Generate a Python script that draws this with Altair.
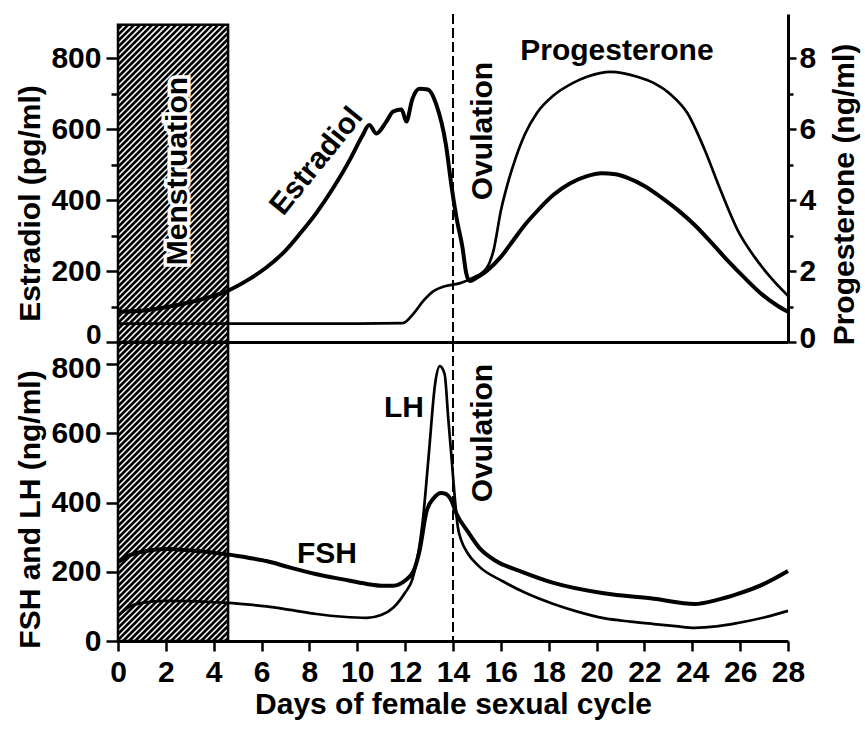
import altair as alt
import pandas as pd

# ---------------- data ----------------
estradiol_day = [0, 1, 2, 3, 4, 4.6, 5.5, 6.2, 7.0, 7.6, 8.3, 9.0, 9.7, 10.2, 10.5, 10.8,
                 11.2, 11.5, 11.85, 12.05, 12.3, 12.6, 12.95, 13.3, 13.7, 13.95, 14.15, 14.4,
                 14.55, 14.7, 15.0, 15.4, 16.0, 16.5, 17.0, 17.5, 18.2, 18.9, 19.6, 20.2,
                 20.8, 21.3, 22.0, 22.7, 23.4, 24.1, 24.8, 25.5, 26.2, 26.9, 27.5, 28.0]
estradiol_val = [85, 88, 98, 112, 130, 145, 178, 210, 258, 305, 365, 435, 515, 580, 612, 588,
                 620, 650, 656, 622, 685, 714, 712, 670, 558, 434, 349, 265,
                 195, 172, 182, 200, 240, 285, 330, 368, 415, 448, 468, 476,
                 473, 463, 440, 408, 372, 330, 280, 228, 180, 135, 105, 85]

progesterone_day = [0, 2, 4, 6, 8, 10, 11.9, 12.35, 12.75, 13.2, 13.7, 14.3, 14.8, 15.4,
                    15.7, 16.0, 16.3, 16.6, 17.0, 17.5, 18.2, 19.0, 19.6, 20.6, 21.7, 22.4,
                    23.1, 23.8, 24.5, 25.2, 25.9, 26.6, 27.3, 28.0]
progesterone_val = [0.52, 0.52, 0.52, 0.52, 0.52, 0.52, 0.53, 0.8, 1.15, 1.44, 1.58, 1.66, 1.8, 2.08,
                    2.6, 3.7, 4.5, 5.15, 5.85, 6.45, 6.95, 7.3, 7.48, 7.62, 7.48, 7.3,
                    6.98, 6.45, 5.45, 4.25, 3.15, 2.4, 1.8, 1.3]

fsh_day = [0, 0.5, 1, 2, 3, 4, 4.6, 5.5, 6.2, 7.2, 8.3, 9.4, 10.4, 11.0, 11.5, 12.0, 12.35,
           12.6, 12.9, 13.2, 13.5, 13.7, 13.9, 14.15, 14.6, 15.1, 15.8, 16.8, 18.2, 20.3,
           22.4, 24.1, 25.0, 25.9, 27.0, 28.0]
fsh_val = [228, 248, 258, 266, 262, 255, 250, 240, 231, 212, 193, 178, 165, 160, 160, 175, 202,
           260, 376, 413, 428, 425, 410, 367, 318, 269, 231, 202, 168, 138,
           122, 107, 118, 136, 165, 202]

lh_day = [0, 0.5, 1, 2, 3, 4, 4.6, 5.5, 6.2, 7.2, 8.3, 9.4, 10.4, 11.0, 11.5, 12.0, 12.3,
          12.75, 13.0, 13.25, 13.45, 13.65, 13.8, 13.95, 14.1, 14.2, 14.35, 14.6, 15.1, 16.1,
          17.0, 18.2, 19.2, 20.3, 21.4, 22.4, 23.3, 24.1, 25.0, 25.9, 27.0, 28.0]
lh_val = [72, 100, 110, 116, 115, 112, 110, 105, 100, 90, 78, 70, 67, 75, 96, 140, 178,
          356, 549, 742, 794, 771, 645, 520, 395, 330, 290, 255, 215, 172,
          140, 107, 85, 66, 56, 49, 43, 38, 42, 52, 68, 87]

MENSES_START, MENSES_END = 0, 4.6
OVULATION_DAY = 14
x_ticks = list(range(0, 29, 2))

# ---------------- layout constants ----------------
FONT = "Liberation Sans"
FS = 30
FW = "bold"
PLOT_W = 670
X_MAX = 28
TOP_H, TOP_MAX, TOP_HATCH = 328, 925, 895
BOT_H, BOT_MAX = 299, 864

KX = PLOT_W / X_MAX


def hatch_frame(ymax, ky, step=6.0):
    """Diagonal hatch pattern (decoration) inside the menstruation band."""
    w = (MENSES_END - MENSES_START) * KX
    h = ymax * ky
    rows = []
    c = -w + step / 2
    while c < h:
        u1 = max(0.0, -c)
        u2 = min(w, h - c)
        if u2 > u1:
            rows.append({"x": MENSES_START + u1 / KX, "x2": MENSES_START + u2 / KX,
                         "y": (u1 + c) / ky, "y2": (u2 + c) / ky})
        c += step
    return pd.DataFrame(rows)


def xs(axis):
    return alt.X("x:Q", scale=alt.Scale(domain=[0, X_MAX], nice=False, zero=False), axis=axis)


def ys(dmax, axis):
    return alt.Y("y:Q", scale=alt.Scale(domain=[0, dmax], nice=False, zero=False), axis=axis)


def text_layer(df, angle, dmax, xax, yax, halo=False):
    base = alt.Chart(df)
    kw = dict(font=FONT, fontSize=FS, fontWeight=FW, angle=angle, align="center",
              baseline="middle", color="black")
    layers = []
    if halo:
        layers.append(base.mark_text(stroke="white", strokeWidth=7, **kw).encode(
            x=xs(xax), y=ys(dmax, yax), text="t:N"))
    layers.append(base.mark_text(**kw).encode(x=xs(xax), y=ys(dmax, yax), text="t:N"))
    return layers


menses_top = pd.DataFrame({"x": [MENSES_START], "x2": [MENSES_END], "y": [0], "y2": [TOP_HATCH]})
menses_bot = pd.DataFrame({"x": [MENSES_START], "x2": [MENSES_END], "y": [0], "y2": [BOT_MAX]})
ov_df = pd.DataFrame({"x": [OVULATION_DAY]})

est_df = pd.DataFrame({"x": estradiol_day, "y": estradiol_val})
prog_df = pd.DataFrame({"x": progesterone_day, "y": progesterone_val})
fsh_df = pd.DataFrame({"x": fsh_day, "y": fsh_val})
lh_df = pd.DataFrame({"x": lh_day, "y": lh_val})

# ---------------- top panel ----------------
XT = alt.Axis(labels=False, ticks=False, title=None, domain=True, domainWidth=3)
YT = alt.Axis(
    values=list(range(0, 801, 100)),
    labelExpr="datum.value % 200 == 0 ? datum.label : ''",
    tickSize={"condition": {"test": "datum.value % 200 == 0", "value": 12}, "value": 7},
    labelOffset={"condition": {"test": "datum.value == 0", "value": -7}, "value": 0},
    labelFontSize={"condition": {"test": "datum.value == 0", "value": 28}, "value": FS},
    labelPadding=5, title="Estradiol (pg/ml)", titlePadding=5, domain=False, titleY=189)

top_hatch = alt.Chart(hatch_frame(TOP_HATCH, TOP_H / TOP_MAX)).mark_rule(
    color="black", strokeWidth=2.7).encode(x=xs(XT), x2="x2:Q", y=ys(TOP_MAX, YT), y2="y2:Q")
top_rect = alt.Chart(menses_top).mark_rect(fillOpacity=0, stroke="black", strokeWidth=2.5).encode(
    x=xs(XT), x2="x2:Q", y=ys(TOP_MAX, YT), y2="y2:Q")
est_line = alt.Chart(est_df).mark_line(color="black", strokeWidth=4, interpolate="monotone").encode(
    x=xs(XT), y=ys(TOP_MAX, YT))
ov_top = alt.Chart(ov_df).mark_rule(color="black", strokeWidth=2, strokeDash=[10, 4]).encode(x=xs(XT))

top_texts = []
top_texts += text_layer(pd.DataFrame({"x": [2.5], "y": [482], "t": ["Menstruation"]}), 270, TOP_MAX, XT, YT, halo=True)
top_texts += text_layer(pd.DataFrame({"x": [8.3], "y": [510], "t": ["Estradiol"]}), 309, TOP_MAX, XT, YT)
top_texts += text_layer(pd.DataFrame({"x": [15.25], "y": [595], "t": ["Ovulation"]}), 270, TOP_MAX, XT, YT)
top_texts += text_layer(pd.DataFrame({"x": [20.85], "y": [820], "t": ["Progesterone"]}), 0, TOP_MAX, XT, YT)

YR = alt.Axis(
    orient="right", values=list(range(0, 9)),
    labelExpr="datum.value % 2 == 0 ? datum.label : ''",
    tickSize={"condition": {"test": "datum.value % 2 == 0", "value": 8}, "value": 5},
    labelOffset={"condition": {"test": "datum.value == 0", "value": -4}, "value": 0},
    labelPadding=3, title="Progesterone (ng/ml)", titlePadding=14, domain=True, domainWidth=3,
    titleAngle=270, titleBaseline="top", titleY=180)

prog_line = alt.Chart(prog_df).mark_line(color="black", strokeWidth=2.7, interpolate="monotone").encode(
    x=xs(XT), y=ys(TOP_MAX / 100, YR))

left_group = alt.layer(top_rect, top_hatch, est_line, ov_top, *top_texts)
top = alt.layer(left_group, prog_line).resolve_scale(y="independent").properties(
    width=PLOT_W, height=TOP_H)

# ---------------- bottom panel ----------------
XB = alt.Axis(values=x_ticks, tickSize=10, labelPadding=6, domainWidth=3,
              title="Days of female sexual cycle", titlePadding=2)
YB = alt.Axis(values=list(range(0, 801, 200)), tickSize=12, labelPadding=5,
              labelOffset={"condition": {"test": "datum.value == 800", "value": 4}, "value": 0},
              title="FSH and LH (ng/ml)", titlePadding=5, domain=False, titleY=167)

bot_hatch = alt.Chart(hatch_frame(BOT_MAX, BOT_H / BOT_MAX)).mark_rule(
    color="black", strokeWidth=2.7).encode(x=xs(XB), x2="x2:Q", y=ys(BOT_MAX, YB), y2="y2:Q")
bot_rect = alt.Chart(menses_bot).mark_rect(fillOpacity=0, stroke="black", strokeWidth=2.5).encode(
    x=xs(XB), x2="x2:Q", y=ys(BOT_MAX, YB), y2="y2:Q")
fsh_line = alt.Chart(fsh_df).mark_line(color="black", strokeWidth=4, interpolate="monotone").encode(
    x=xs(XB), y=ys(BOT_MAX, YB))
lh_line = alt.Chart(lh_df).mark_line(color="black", strokeWidth=2.7, interpolate="monotone").encode(
    x=xs(XB), y=ys(BOT_MAX, YB))
ov_bot = alt.Chart(ov_df).mark_rule(color="black", strokeWidth=2, strokeDash=[10, 4]).encode(x=xs(XB))

bot_texts = []
bot_texts += text_layer(pd.DataFrame({"x": [15.25], "y": [601], "t": ["Ovulation"]}), 270, BOT_MAX, XB, YB)
bot_texts += text_layer(pd.DataFrame({"x": [11.95], "y": [673], "t": ["LH"]}), 0, BOT_MAX, XB, YB)
bot_texts += text_layer(pd.DataFrame({"x": [8.73], "y": [251], "t": ["FSH"]}), 0, BOT_MAX, XB, YB)

bottom = alt.layer(bot_rect, bot_hatch, fsh_line, lh_line, ov_bot, *bot_texts).properties(
    width=PLOT_W, height=BOT_H)

chart = alt.vconcat(top, bottom, spacing=0, bounds="flush").properties(
    padding={"left": 15, "top": 13, "right": 3, "bottom": 3}
).configure_axis(
    labelFont=FONT, titleFont=FONT, labelFontSize=FS, titleFontSize=FS,
    labelColor="black", titleColor="black", domainColor="black", tickColor="black",
    tickWidth=2.5, domainWidth=2.5, grid=False, titleFontWeight=FW, labelFontWeight=FW,
    labelFlush=False, labelOverlap=False
).configure_view(stroke=None)

chart.save("out.html", embed_options={"renderer": "svg", "actions": False})
